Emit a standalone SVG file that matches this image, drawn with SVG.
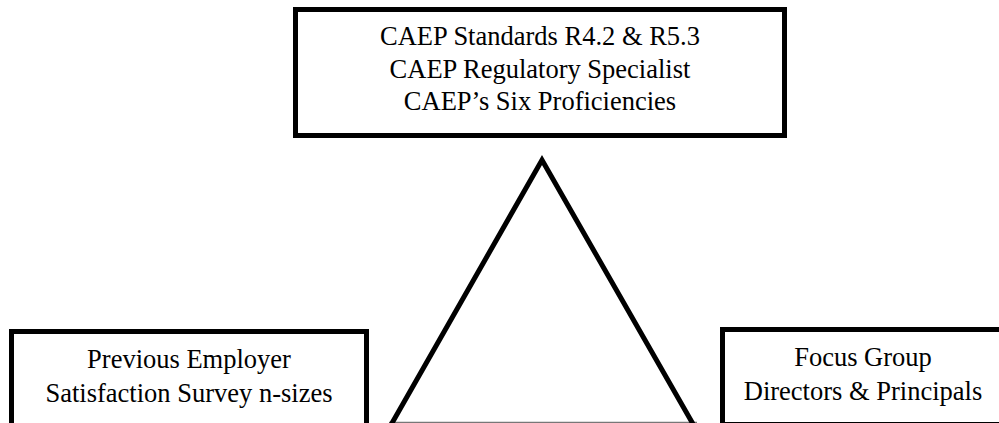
<svg xmlns="http://www.w3.org/2000/svg" width="999" height="423" viewBox="0 0 999 423">
<style>
.box{fill:#fff;stroke:#000;stroke-width:5}
.t{font-family:'Liberation Serif','Times New Roman',Tinos,'DejaVu Serif',serif;font-size:26.5px;fill:#000;text-anchor:middle}
.tri{fill:none;stroke:#000;stroke-width:5;stroke-linejoin:miter}
.base{stroke:#777;stroke-width:1.2}
</style>
<rect width="999" height="423" fill="#fff"/>
<g id="connectors">
<line class="base" x1="389" y1="422.4" x2="697" y2="422.4"/>
<polyline class="tri" points="391.5,424 542,160 693,424"/>
</g>
<g id="top">
<rect class="box" x="295.5" y="9.5" width="489" height="126"/>
<text class="t" x="540" y="45">CAEP Standards R4.2 &amp; R5.3</text>
<text class="t" x="540" y="77.5">CAEP Regulatory Specialist</text>
<text class="t" x="540" y="110">CAEP’s Six Proficiencies</text>
</g>
<g id="left">
<rect class="box" x="11.5" y="331.5" width="355" height="100"/>
<text class="t" x="189" y="368">Previous Employer</text>
<text class="t" x="189" y="402">Satisfaction Survey n-sizes</text>
</g>
<g id="right">
<rect class="box" x="722.5" y="329.5" width="281" height="95"/>
<text class="t" x="863" y="366">Focus Group</text>
<text class="t" x="863" y="400">Directors &amp; Principals</text>
</g>
</svg>
